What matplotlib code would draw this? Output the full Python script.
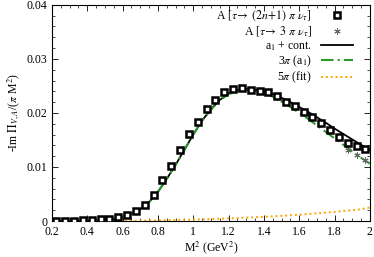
import numpy as np
import matplotlib
matplotlib.use("Agg")
import matplotlib.pyplot as plt
from matplotlib.ticker import MultipleLocator

plt.rcParams['font.family'] = ['Liberation Serif', 'DejaVu Serif']
plt.rcParams['mathtext.fontset'] = 'stix'
plt.rcParams['font.size'] = 8.5

# datos (2n+1) pi
m2_datos = np.arange(0.225, 2.0, 0.05)
a_total = [0.0000, 0.0000, 0.0000, 0.0001, 0.0002, 0.0003, 0.0004, 0.0008,
           0.0011, 0.0018, 0.0030, 0.0048, 0.0076, 0.0102, 0.0131, 0.0161,
           0.0184, 0.0207, 0.0224, 0.0238, 0.0244, 0.0246, 0.0243, 0.0241,
           0.0238, 0.0231, 0.0221, 0.0213, 0.0202, 0.0192, 0.0181, 0.0169,
           0.0156, 0.0145, 0.0139, 0.0133]
# datos 3 pi
a_3pi = [0.0000, 0.0000, 0.0000, 0.0001, 0.0002, 0.0003, 0.0004, 0.0008,
         0.0011, 0.0018, 0.0030, 0.0048, 0.0076, 0.0102, 0.0131, 0.0161,
         0.0184, 0.0207, 0.0224, 0.0238, 0.0244, 0.0246, 0.0243, 0.0241,
         0.0238, 0.0230, 0.0220, 0.0212, 0.0200, 0.0190, 0.0179, 0.0166,
         0.0153, 0.0131, 0.0122, 0.0113]

# curvas
m2_curva = [0.2, 0.3, 0.4, 0.45, 0.5, 0.55, 0.6, 0.65, 0.7, 0.75, 0.8, 0.85,
            0.9, 0.95, 1.0, 1.05, 1.1, 1.15, 1.2, 1.25, 1.3, 1.35, 1.4, 1.45,
            1.5, 1.55, 1.6, 1.65, 1.7, 1.75, 1.8, 1.85, 1.9, 1.95, 2.0]
a1_cont = [0.0, 0.0, 0.0, 0.00003, 0.0001, 0.0003, 0.0007, 0.0013, 0.0022,
           0.0035, 0.0054, 0.0078, 0.0104, 0.0132, 0.0160, 0.0186, 0.0207,
           0.0224, 0.0236, 0.0242, 0.0244, 0.0243, 0.0240, 0.0235, 0.0228,
           0.0220, 0.0211, 0.0202, 0.0192, 0.0182, 0.0171, 0.0161, 0.0151,
           0.0141, 0.0132]
tres_pi = [0.0, 0.0, 0.0, 0.00003, 0.0001, 0.0003, 0.0007, 0.0013, 0.0022,
           0.0035, 0.0054, 0.0078, 0.0104, 0.0132, 0.0160, 0.0186, 0.0206,
           0.0223, 0.0235, 0.0240, 0.0242, 0.0241, 0.0237, 0.0230, 0.0221,
           0.0211, 0.0200, 0.0189, 0.0177, 0.0165, 0.0153, 0.0141, 0.0129,
           0.0117, 0.0106]
cinco_pi = [0.0, 0.0, 0.0, 0.0, 0.0, 0.0, 0.0, 0.00003, 0.00006, 0.0001,
            0.00013, 0.00016, 0.0002, 0.00024, 0.00028, 0.00032, 0.00037,
            0.00042, 0.00048, 0.00055, 0.00062, 0.0007, 0.00078, 0.00087,
            0.00096, 0.00106, 0.00117, 0.00129, 0.00142, 0.00156, 0.0017,
            0.00185, 0.002, 0.00218, 0.0025]

fig = plt.figure(figsize=(3.74, 2.57), dpi=100)
ax = fig.add_axes([0.139, 0.140, 0.850, 0.841])

ax.plot(m2_datos, a_total, linestyle='none', marker='s', ms=4.2,
        mfc='white', mec='black', mew=1.8, zorder=4,
        label=r'A [$\tau\!\rightarrow$ $\mathit{(2n{+}1)}$ $\pi$ $\nu_\tau$]')
ax.plot(m2_datos, a_3pi, linestyle='none', marker=(6, 2, 0), ms=4.5,
        color='#666666', mew=0.7, zorder=3,
        label=r'A [$\tau\!\rightarrow$ $\mathit{3}$ $\pi$ $\nu_\tau$]')
ax.plot(m2_curva, a1_cont, color='black', lw=1.3, zorder=2, label=r'a$_1$ + cont.')
ax.plot(m2_curva, tres_pi, color='#2a9a2a', lw=1.5, dashes=(6, 2, 1, 2), zorder=2,
        label=r'3$\pi$ (a$_1$)')
ax.plot(m2_curva, cinco_pi, color='#ffa500', lw=1.4, dashes=(1, 1.5), zorder=2,
        label=r'5$\pi$ (fit)')

ax.set_xlim(0.2, 2.0)
ax.set_ylim(0, 0.04)
ax.xaxis.set_minor_locator(MultipleLocator(0.05))
ax.yaxis.set_minor_locator(MultipleLocator(0.002))
ax.set_xticks([0.2, 0.4, 0.6, 0.8, 1.0, 1.2, 1.4, 1.6, 1.8, 2.0])
ax.set_xticklabels(['0.2', '0.4', '0.6', '0.8', '1', '1.2', '1.4', '1.6', '1.8', '2'])
ax.set_yticks([0, 0.01, 0.02, 0.03, 0.04])
ax.set_yticklabels(['0', '0.01', '0.02', '0.03', '0.04'])
ax.tick_params(which='both', direction='in', top=True, right=True)
ax.tick_params(which='major', length=4, width=0.6)
ax.tick_params(which='minor', length=2, width=0.5)

ax.set_xlabel(r'M$^2$ (GeV$^2$)', labelpad=1)
ax.set_ylabel(r'-Im $\Pi_{V,A}$/($\pi$ M$^2$)', labelpad=3)

ax.legend(loc='upper right', bbox_to_anchor=(0.965, 1.01), frameon=False,
          markerfirst=False, handlelength=2.7, labelspacing=0.08,
          borderaxespad=0.1, handletextpad=0.8)

fig.savefig('out.png', dpi=100)
